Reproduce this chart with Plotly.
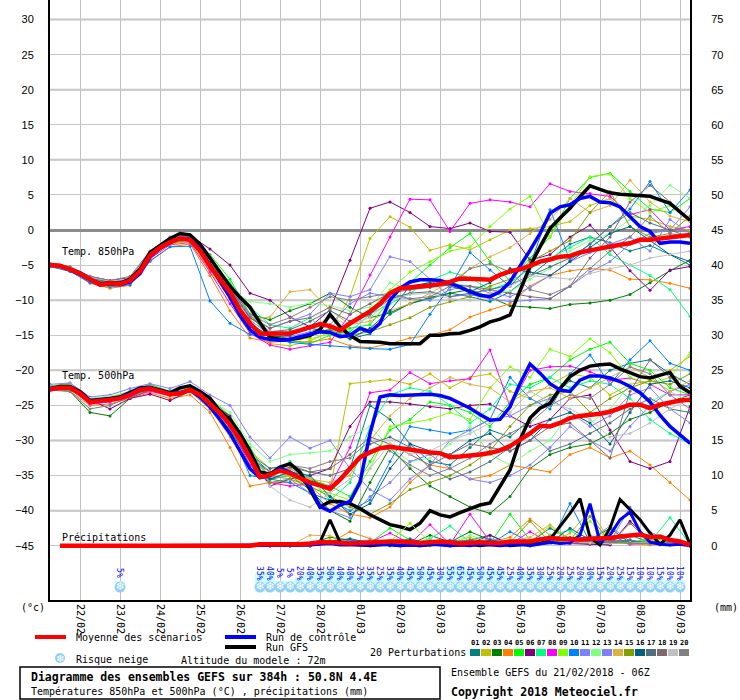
import plotly.graph_objects as go

# Time axis: 6h steps from 21/02/2018 06Z over 384h (members kept at 12h)
hours6 = [6 * i for i in range(65)]
hours12 = [12 * k for k in range(33)]

day_labels = ['22/02', '23/02', '24/02', '25/02', '26/02', '27/02', '28/02', '01/03',
              '02/03', '03/03', '04/03', '05/03', '06/03', '07/03', '08/03', '09/03']
day_hours = [18 + 24 * d for d in range(16)]

# Temperature 850 hPa (6h)
mean850 = [-5.0, -5.1, -5.6, -6.2, -7.0, -7.8, -7.6, -7.7, -7.2, -5.9,
           -3.6, -2.5, -1.7, -1.2, -1.4, -2.9, -5.2, -6.9, -8.8, -11.4,
           -13.3, -14.8, -14.8, -14.8, -14.7, -14.3, -13.8, -13.4, -13.7, -14.3,
           -13.3, -12.5, -11.6, -10.5, -9.0, -8.3, -8.2, -8.0, -7.9, -7.7,
           -7.4, -6.9, -6.9, -7.0, -7.1, -6.4, -5.9, -5.6, -5.1, -4.5,
           -4.2, -3.8, -3.7, -3.2, -2.9, -2.6, -2.4, -2.1, -1.9, -1.4,
           -1.4, -1.2, -1.0, -0.9, -0.7]
ctrl850 = [-5.0, -5.1, -5.7, -6.3, -7.1, -7.8, -7.7, -7.8, -7.4, -6.2,
           -3.8, -2.6, -1.8, -1.2, -1.3, -2.7, -5.0, -7.2, -9.6, -12.2,
           -14.2, -15.3, -15.6, -15.7, -15.6, -15.2, -14.8, -14.5, -14.6, -15.2,
           -15.0, -14.0, -14.5, -13.3, -10.0, -8.3, -7.4, -7.1, -7.1, -7.2,
           -7.6, -8.1, -8.8, -9.3, -9.5, -8.8, -7.4, -5.2, -2.9, -0.5,
           2.4, 3.3, 3.6, 4.5, 4.8, 4.0, 3.9, 3.3, 1.9, 0.5,
           -0.2, -1.9, -1.7, -1.7, -1.9]
gfs850 = [-5.0, -5.1, -5.6, -6.1, -7.0, -7.7, -7.5, -7.6, -7.0, -5.6,
          -3.2, -2.2, -1.2, -0.5, -0.7, -2.0, -4.0, -6.0, -8.0, -9.6,
          -11.0, -13.2, -15.3, -15.6, -15.6, -15.4, -15.0, -14.2, -12.0, -13.8,
          -15.0, -15.9, -15.9, -16.0, -16.2, -16.2, -16.2, -16.2, -15.0, -15.0,
          -14.8, -14.7, -14.3, -13.8, -13.1, -12.7, -12.1, -8.6, -5.2, -2.4,
          0.2, 1.7, 3.1, 4.75, 6.3, 5.8, 5.3, 5.1, 5.0, 4.8,
          4.8, 4.3, 3.8, 2.6, 1.4]

# Temperature 500 hPa (6h)
mean500 = [-22.7, -22.5, -22.5, -23.3, -24.5, -24.4, -24.2, -24.0, -23.5, -22.8,
           -22.6, -23.0, -23.4, -23.3, -22.8, -23.5, -24.7, -26.1, -27.8, -29.9,
           -32.5, -35.2, -34.9, -34.3, -34.7, -35.4, -36.0, -36.4, -36.9, -35.6,
           -33.9, -32.4, -31.7, -31.1, -30.9, -31.1, -31.4, -31.6, -31.7, -31.8,
           -32.4, -32.3, -32.2, -32.0, -31.8, -31.4, -30.8, -29.9, -29.0, -27.9,
           -28.0, -27.5, -26.8, -26.5, -26.4, -26.2, -25.9, -25.4, -24.9, -24.9,
           -25.4, -24.9, -24.6, -24.3, -24.2]
ctrl500 = [-22.6, -22.4, -22.4, -23.2, -24.4, -24.3, -24.1, -23.9, -23.3, -22.7,
           -22.5, -22.9, -23.3, -23.2, -22.8, -23.8, -25.2, -27.0, -29.0, -31.5,
           -34.0, -35.3, -35.0, -34.0, -34.5, -35.3, -36.5, -39.4, -40.1, -39.2,
           -38.7, -36.0, -29.0, -23.8, -23.5, -23.6, -23.5, -23.4, -23.4, -23.6,
           -24.0, -24.7, -25.4, -26.3, -27.1, -27.0, -25.2, -21.9, -19.1, -20.4,
           -21.9, -22.8, -23.0, -21.4, -20.8, -20.8, -21.1, -21.6, -22.3, -23.2,
           -24.5, -26.4, -28.0, -29.2, -30.4]
gfs500 = [-22.6, -22.3, -22.3, -23.0, -24.3, -24.2, -24.0, -23.8, -23.2, -22.5,
          -22.4, -22.8, -23.2, -22.5, -22.2, -23.0, -24.0, -25.8, -27.0, -29.0,
          -31.5, -34.5, -34.8, -33.8, -33.3, -34.5, -37.0, -39.5, -38.7, -38.7,
          -39.0, -39.7, -40.6, -41.3, -42.0, -42.3, -42.7, -41.8, -40.0, -40.6,
          -40.9, -40.3, -39.7, -39.2, -38.9, -36.6, -34.2, -29.9, -26.8, -25.4,
          -24.7, -22.6, -20.9, -20.0, -19.4, -19.2, -19.1, -19.8, -20.4, -20.9,
          -21.1, -20.7, -20.3, -22.3, -23.2]

# Precipitation (mm per 6h, from +6h)
mean_pr = [0, 0, 0, 0, 0, 0, 0, 0, 0, 0, 0, 0, 0, 0, 0, 0, 0, 0, 0, 0,
           0.2, 0.2, 0.1, 0.1, 0.2, 0.3, 0.5, 0.5, 0.4, 0.3,
           0.4, 0.5, 0.6, 0.6, 0.6, 0.5, 0.4, 0.5, 0.6, 0.5,
           0.3, 0.4, 0.5, 0.4, 0.4, 0.6, 0.6, 0.6, 0.9, 1.1,
           1.0, 0.9, 0.9, 1.0, 1.0, 1.1, 1.3, 1.4, 1.6, 1.2,
           1.3, 0.8, 0.6, 0.1]
ctrl_pr = [0, 0, 0, 0, 0, 0, 0, 0, 0, 0, 0, 0, 0, 0, 0, 0, 0, 0, 0, 0,
           0, 0, 0, 0, 0, 0.1, 0.2, 0.3, 0.1, 0.1,
           0, 0.1, 0.2, 0.1, 0, 0.1, 0, 0.2, 0.1, 0,
           0.1, 0, 0.2, 0.1, 0, 0.1, 0.2, 0, 0.2, 0.5,
           0.3, 0.4, 1.5, 6.0, 0.5, 1.5, 3.7, 4.8, 2.0, 0.5,
           0.2, 0.1, 0.2, 0]
gfs_pr = [0, 0, 0, 0, 0, 0, 0, 0, 0, 0, 0, 0, 0, 0, 0, 0, 0, 0, 0, 0,
          0, 0, 0, 0, 0.1, 0.3, 0.5, 3.7, 0.5, 0.2,
          0.1, 0, 0.1, 0.2, 0, 0.1, 0, 0.1, 0.2, 0,
          0.1, 0.2, 0, 0.1, 0.3, 0, 0.1, 0.2, 0.3, 0.9,
          2.8, 4.6, 6.7, 1.2, 0.1, 2.5, 6.6, 5.1, 3.7, 1.8,
          0.2, 1.5, 3.7, 0.2]

pert_colors = ['#008080', '#c0c000', '#008000', '#ff8000', '#00ff00', '#800080', '#00ff80',
               '#ff00ff', '#80ff00', '#0080ff', '#8080ff', '#80ff80', '#8080ff', '#e0b040',
               '#80a000', '#006080', '#507080', '#806870', '#c0c0c0', '#808080']

# 20 perturbations, 12h steps
pert850 = [
    [-5.0, -5.5, -7.1, -7.8, -7.4, -3.8, -1.6, -1.3, -5.5, -9.5, -13.8, -15.2, -15.6, -15.0, -14.2, -15.5,
     -14.8, -12.0, -10.5, -9.8, -9.0, -9.5, -10.2, -8.8, -6.5, -4.2, -2.0, -1.0, -1.8, -3.0, -2.2, -3.5, -5.0],
    [-5.1, -5.7, -7.2, -7.8, -7.5, -4.0, -2.0, -1.6, -5.8, -9.8, -14.5, -16.2, -16.5, -15.8, -14.5, -9.5,
     -1.2, 1.9, 0.4, -2.9, -2.1, -2.8, -1.4, 0.0, 0.2, 0.5, 1.2, 3.5, 4.5, 2.0, 1.5, 0.5, 0.0],
    [-4.9, -5.4, -6.8, -7.4, -7.0, -3.4, -1.5, -1.2, -4.8, -8.0, -12.0, -12.8, -11.5, -10.5, -9.0, -11.0,
     -12.5, -11.8, -10.5, -9.6, -9.0, -8.5, -9.6, -10.8, -11.0, -11.2, -10.6, -10.4, -10.0, -9.2, -7.5, -5.8, -4.3],
    [-5.2, -5.8, -7.6, -8.3, -7.9, -4.5, -2.4, -2.0, -6.5, -11.5, -15.4, -16.0, -15.8, -16.0, -15.5, -16.5,
     -16.8, -16.2, -15.4, -15.0, -14.2, -12.4, -11.4, -10.5, -8.0, -6.5, -5.8, -5.5, -5.7, -7.0, -7.1, -7.6, -8.3],
    [-4.9, -5.5, -6.9, -7.5, -7.0, -3.5, -1.2, -0.8, -3.5, -7.0, -12.0, -15.5, -15.8, -16.2, -15.0, -14.0,
     -13.5, -10.0, -7.5, -5.0, -2.5, -0.5, -4.5, -7.2, -4.0, -1.0, 4.5, 7.5, 8.1, 5.5, 3.0, 2.5, 4.5],
    [-5.0, -5.4, -6.6, -7.2, -6.8, -3.2, -1.3, -0.8, -2.7, -5.0, -9.0, -10.0, -12.4, -13.8, -11.4, -4.3,
     3.1, 4.0, 2.5, 0.5, 0.2, 1.0, -0.2, -0.3, -4.3, -3.5, -1.0, 0.7, -2.4, -5.8, -8.6, -5.7, -5.2],
    [-5.0, -5.6, -7.1, -7.7, -7.3, -3.7, -1.8, -1.5, -4.2, -7.5, -11.0, -13.5, -14.0, -12.5, -15.0, -14.5,
     -12.0, -10.5, -9.0, -7.2, -6.0, -6.8, -8.5, -7.5, -5.5, -4.0, -2.5, -1.0, -3.5, -5.0, -6.5, -8.5, -12.3],
    [-5.1, -5.8, -7.3, -7.9, -7.6, -4.1, -2.1, -1.8, -6.0, -10.5, -14.7, -16.4, -17.0, -16.5, -16.0, -12.0,
     -6.4, -1.0, 4.4, 4.3, -0.2, 3.8, 4.3, 4.0, 3.3, 6.6, 5.5, 5.2, 4.8, 2.2, 2.9, 0.0, 0.5],
    [-4.9, -5.5, -6.9, -7.5, -7.1, -3.5, -1.4, -0.9, -4.0, -8.0, -12.5, -14.5, -15.0, -15.5, -14.8, -13.5,
     -11.5, -8.5, -6.0, -4.5, -3.0, -2.4, 0.5, 3.0, 4.8, -1.0, 3.5, 7.6, 8.0, 4.5, 2.5, 3.5, 1.5],
    [-5.2, -5.9, -7.5, -8.1, -7.8, -4.4, -2.4, -2.3, -10.1, -13.3, -14.9, -15.5, -16.0, -16.3, -16.5, -16.8,
     -16.9, -17.0, -16.3, -12.0, -8.1, -3.2, -5.7, -8.0, -5.0, 2.9, -4.3, -2.0, 0.5, 3.0, 6.9, 2.5, 5.7],
    [-4.8, -5.3, -6.8, -7.4, -6.9, -3.1, -1.2, -0.7, -4.0, -8.5, -12.2, -14.0, -13.0, -12.0, -9.0, -9.5,
     -8.5, -3.8, -4.5, -7.0, -9.5, -9.2, -9.8, -10.2, -10.0, -9.8, -8.0, -6.0, -4.5, -2.0, -0.5, 0.0, 3.3],
    [-5.0, -5.5, -6.9, -7.5, -7.1, -3.5, -1.6, -1.2, -4.5, -8.5, -10.2, -10.5, -11.0, -10.4, -10.8, -11.5,
     -11.0, -7.5, -8.5, -8.2, -7.5, -8.0, -8.2, -8.8, -7.0, -5.5, -3.0, -1.5, -0.5, 1.5, 3.5, 6.4, 4.5],
    [-5.0, -5.6, -7.0, -7.7, -7.2, -3.4, -1.3, -0.9, -3.8, -7.8, -12.8, -15.0, -15.2, -14.5, -13.5, -10.5,
     -9.0, -9.5, -9.8, -10.0, -8.5, -8.0, -9.0, -9.5, -8.2, -6.5, -4.5, -3.2, -2.0, -1.0, -3.0, 1.5, -0.5],
    [-5.1, -5.7, -7.1, -7.8, -7.4, -3.9, -2.0, -1.7, -5.5, -9.8, -12.8, -12.4, -8.8, -8.5, -11.4, -13.5,
     -13.0, -11.5, -10.5, -9.0, -7.5, -5.5, -3.8, -2.5, -0.5, 1.5, 4.5, 2.5, 3.5, 7.1, 4.0, 2.0, 1.2],
    [-5.0, -5.6, -7.2, -7.9, -7.3, -3.8, -1.9, -1.4, -5.5, -9.5, -13.5, -15.0, -15.5, -15.2, -14.0, -15.0,
     -14.5, -13.5, -12.5, -11.0, -10.2, -9.5, -8.0, -7.0, -4.5, -3.0, -1.5, 2.5, 5.5, 0.5, -1.0, -0.5, 2.0],
    [-5.0, -5.5, -7.0, -7.6, -7.2, -3.6, -1.6, -1.2, -5.0, -9.0, -13.2, -15.3, -15.0, -14.0, -14.5, -15.5,
     -14.0, -11.5, -8.0, -7.5, -8.0, -8.8, -7.5, -5.5, -6.0, -6.5, -4.5, -2.5, -0.5, 0.5, -1.5, -3.5, -4.5],
    [-4.9, -5.4, -6.9, -7.4, -7.0, -3.3, -1.5, -1.0, -4.6, -8.2, -12.5, -14.5, -14.2, -13.0, -11.5, -13.0,
     -12.0, -9.8, -9.0, -8.8, -9.5, -9.0, -8.5, -7.8, -6.5, -5.2, -4.0, -2.0, 0.5, 2.5, 1.0, 0.0, -1.0],
    [-5.0, -5.6, -7.0, -7.6, -7.2, -3.5, -1.6, -1.2, -5.0, -8.8, -12.5, -14.0, -13.0, -12.5, -11.0, -12.0,
     -10.5, -9.0, -8.5, -8.2, -7.8, -8.0, -8.5, -9.0, -9.5, -9.8, -8.0, -4.0, -1.0, 4.0, 6.4, 4.0, 1.5],
    [-4.8, -5.3, -6.7, -7.3, -6.9, -3.2, -1.3, -1.0, -4.2, -8.0, -12.0, -14.5, -14.8, -13.8, -12.5, -13.5,
     -12.5, -10.0, -9.2, -9.0, -9.8, -10.0, -9.0, -8.0, -6.5, -6.8, -7.0, -6.2, -5.5, -5.0, -4.0, -3.5, -3.0],
    [-4.8, -5.2, -6.6, -7.2, -6.6, -3.0, -1.0, -0.7, -4.0, -8.0, -12.0, -13.5, -12.5, -11.0, -9.5, -10.0,
     -9.5, -9.0, -9.8, -9.5, -8.0, -5.5, -4.8, -6.0, -8.5, -9.2, -8.0, -5.5, -3.0, -1.0, 2.0, -0.5, -1.0],
]

pert500 = [
    [-22.5, -22.3, -24.8, -24.0, -23.2, -22.4, -23.2, -22.6, -24.5, -27.5, -32.0, -34.5, -34.0, -35.5, -37.0, -34.0,
     -25.0, -27.0, -30.5, -33.0, -33.5, -31.0, -28.5, -29.5, -27.0, -24.0, -21.5, -22.5, -20.0, -19.0, -18.5, -20.5, -22.0],
    [-22.3, -21.8, -24.0, -24.2, -23.0, -22.5, -23.0, -22.5, -24.0, -27.0, -31.5, -34.0, -33.5, -36.0, -37.0, -21.9,
     -21.6, -21.3, -22.0, -20.5, -22.5, -21.0, -20.5, -23.0, -24.0, -22.0, -20.5, -21.0, -23.5, -22.0, -21.5, -20.0, -18.0],
    [-22.5, -23.0, -26.0, -26.5, -24.0, -22.8, -23.5, -23.0, -25.0, -28.5, -33.0, -35.5, -35.0, -37.0, -40.0, -41.5,
     -36.0, -31.0, -34.0, -36.5, -38.0, -39.5, -40.4, -38.0, -34.0, -32.0, -31.0, -30.5, -29.0, -27.0, -26.0, -24.5, -23.5],
    [-22.8, -23.0, -25.0, -24.8, -24.0, -23.2, -24.0, -23.5, -26.0, -31.0, -36.5, -36.0, -36.0, -36.5, -39.0, -40.5,
     -41.0, -39.5, -36.0, -33.5, -34.0, -35.5, -35.0, -33.5, -34.0, -34.5, -32.0, -31.0, -32.5, -31.5, -33.5, -36.0, -38.5],
    [-22.2, -22.0, -24.2, -23.8, -23.0, -22.0, -23.0, -22.2, -24.0, -26.5, -31.0, -35.5, -34.5, -35.5, -36.5, -38.0,
     -33.0, -28.5, -27.0, -24.5, -25.0, -26.0, -28.0, -24.5, -22.0, -21.0, -18.5, -17.0, -16.0, -19.0, -20.0, -22.5, -23.5],
    [-22.8, -22.6, -24.2, -25.5, -24.0, -23.4, -24.3, -23.0, -24.5, -26.5, -32.0, -36.5, -35.5, -35.0, -34.0, -28.0,
     -24.5, -24.5, -24.8, -25.2, -25.5, -25.0, -24.8, -26.5, -28.0, -27.0, -24.0, -23.5, -28.5, -33.0, -34.0, -33.0, -25.2],
    [-22.6, -22.4, -24.4, -24.1, -23.3, -22.6, -23.3, -22.7, -24.6, -27.5, -32.5, -35.0, -33.0, -35.5, -38.5, -36.0,
     -28.0, -23.5, -22.5, -23.0, -25.0, -27.5, -25.5, -22.0, -22.5, -21.0, -22.5, -21.5, -22.0, -24.0, -27.0, -29.0, -30.5],
    [-22.9, -22.7, -24.8, -24.5, -23.8, -23.0, -23.6, -22.9, -24.8, -28.0, -33.5, -36.0, -36.5, -36.2, -36.5, -31.0,
     -23.2, -22.8, -20.3, -21.9, -21.5, -21.2, -17.1, -25.2, -20.0, -19.5, -19.4, -20.2, -21.4, -21.1, -22.0, -23.5, -23.5],
    [-22.4, -22.2, -24.3, -24.0, -23.4, -22.5, -23.2, -22.6, -24.4, -27.2, -32.2, -35.3, -35.0, -36.8, -37.5, -38.5,
     -34.0, -28.0, -27.5, -27.0, -26.0, -27.0, -22.5, -19.5, -21.0, -17.0, -18.0, -15.5, -17.5, -21.0, -22.0, -21.0, -17.5],
    [-22.7, -22.6, -24.6, -24.0, -23.6, -22.7, -23.5, -22.8, -25.0, -28.5, -35.0, -35.5, -36.0, -37.5, -38.5, -40.0,
     -38.5, -33.0, -28.0, -28.5, -29.0, -28.5, -27.0, -21.0, -24.0, -25.5, -20.5, -17.8, -22.0, -18.5, -15.8, -19.0, -20.0],
    [-22.0, -21.8, -23.8, -23.5, -22.6, -21.9, -22.6, -21.6, -23.5, -25.0, -29.5, -32.5, -29.5, -31.1, -30.0, -34.0,
     -37.0, -38.5, -35.5, -33.5, -30.0, -28.5, -27.0, -26.5, -25.0, -24.0, -26.0, -28.0, -26.5, -23.5, -22.5, -25.5, -27.5],
    [-22.3, -22.1, -24.0, -23.7, -23.1, -22.3, -23.1, -22.4, -24.2, -26.0, -30.5, -33.0, -32.0, -31.8, -31.5, -29.5,
     -28.0, -31.0, -33.0, -32.5, -30.5, -28.0, -32.0, -33.5, -31.5, -30.0, -26.0, -27.5, -25.5, -22.0, -24.5, -23.0, -24.5],
    [-22.6, -22.4, -24.6, -24.2, -23.4, -22.6, -23.3, -22.7, -24.5, -27.5, -32.5, -35.0, -35.5, -37.5, -40.0, -41.0,
     -38.0, -36.0, -33.0, -32.0, -34.0, -35.5, -36.0, -35.0, -33.5, -31.0, -28.0, -30.0, -31.5, -28.0, -25.0, -23.0, -22.0],
    [-22.4, -22.2, -24.5, -24.3, -23.5, -22.7, -23.4, -22.8, -25.5, -29.5, -34.0, -35.0, -34.0, -35.5, -36.0, -35.0,
     -30.0, -26.5, -24.0, -22.5, -21.0, -22.0, -22.5, -24.5, -23.0, -22.5, -24.0, -22.5, -21.0, -19.5, -21.0, -23.0, -21.5],
    [-22.5, -22.5, -24.5, -24.3, -23.6, -22.7, -23.5, -22.9, -24.8, -28.0, -33.0, -36.0, -35.5, -36.5, -38.0, -39.5,
     -40.5, -39.0, -37.0, -36.0, -35.0, -33.5, -31.5, -28.0, -25.0, -23.5, -23.0, -26.0, -24.0, -22.5, -21.5, -22.0, -20.5],
    [-22.6, -22.4, -24.6, -24.1, -23.4, -22.6, -23.4, -22.8, -24.6, -27.8, -33.0, -35.5, -34.5, -35.0, -38.0, -40.5,
     -39.0, -34.0, -30.5, -31.5, -32.0, -30.0, -29.0, -31.5, -30.0, -27.0, -26.0, -27.5, -30.5, -26.0, -22.0, -21.5, -22.5],
    [-22.5, -22.3, -24.4, -24.0, -23.3, -22.5, -23.3, -22.7, -24.4, -27.2, -32.0, -34.0, -33.5, -34.5, -35.0, -34.0,
     -30.5, -29.5, -31.0, -34.0, -35.5, -34.5, -33.0, -31.0, -29.0, -31.5, -30.5, -29.0, -27.5, -25.5, -24.0, -25.5, -26.0],
    [-22.6, -22.5, -24.5, -24.2, -23.5, -22.6, -23.4, -22.8, -24.6, -27.6, -32.5, -34.5, -33.8, -34.5, -34.0, -32.0,
     -29.5, -30.5, -32.0, -33.5, -32.0, -30.5, -31.0, -31.5, -30.0, -28.0, -27.5, -30.0, -32.5, -23.0, -18.5, -21.0, -23.0],
    [-22.3, -22.2, -24.2, -23.9, -23.2, -22.4, -23.2, -22.6, -24.3, -27.0, -33.0, -36.5, -38.5, -39.5, -37.5, -35.5,
     -34.0, -30.5, -32.0, -31.5, -30.0, -29.0, -27.5, -26.0, -23.0, -24.5, -25.5, -27.0, -29.5, -29.0, -27.5, -25.5, -24.0],
    [-22.8, -23.0, -25.5, -25.0, -23.8, -22.8, -23.6, -23.0, -25.5, -28.5, -32.5, -34.5, -33.5, -34.0, -33.0, -32.5,
     -30.0, -31.5, -33.5, -35.0, -34.0, -32.5, -30.5, -29.0, -27.5, -25.0, -23.5, -24.0, -22.0, -19.5, -20.5, -23.5, -25.5],
]

# precipitation of the perturbations, 12h steps from +12h
pert_pr = [
    [0, 0, 0, 0, 0, 0, 0, 0, 0, 0, 0, 0, 0.2, 0.5, 0.3, 0, 0.4, 1.0, 0.2, 0, 0.8, 1.5, 0.3, 0.5, 2.5, 1.0, 0.5, 0.2, 1.5, 0.5, 0.3, 0],
    [0, 0, 0, 0, 0, 0, 0, 0, 0, 0, 0, 0, 0, 0.8, 0.2, 0, 0, 0.3, 0, 0.5, 1.2, 0.2, 0, 0.6, 0.3, 1.8, 5.0, 0.8, 0.5, 0.2, 0.4, 0.1],
    [0, 0, 0, 0, 0, 0, 0, 0, 0, 0, 0, 0, 0.3, 1.2, 0.8, 0.5, 0, 0.2, 1.5, 0.5, 2.0, 0.8, 0.2, 0, 0.3, 0.6, 0.8, 2.5, 0.4, 0.8, 0.3, 0],
    [0, 0, 0, 0, 0, 0, 0, 0, 0, 0, 0, 0, 0.1, 0.4, 2.0, 1.0, 0.5, 0.2, 0.8, 0.3, 0.2, 0.5, 1.2, 3.8, 1.5, 0.5, 0.2, 1.0, 0.3, 0.1, 0.2, 0],
    [0, 0, 0, 0, 0, 0, 0, 0, 0, 0, 0, 0, 0.2, 0.6, 0.3, 0.4, 2.5, 0.8, 0.3, 0.5, 0.2, 0.3, 4.5, 0.8, 0.5, 0.3, 0.6, 0.4, 0.3, 1.2, 0.5, 0.3],
    [0, 0, 0, 0, 0, 0, 0, 0, 0, 0, 0, 0, 0, 0.3, 0.5, 0.2, 0.1, 0.8, 0.4, 0, 0.3, 1.5, 0.2, 0.5, 1.0, 0.3, 0.2, 0.1, 3.5, 0.8, 0.2, 0],
    [0, 0, 0, 0, 0, 0, 0, 0, 0, 0, 0, 0, 0.1, 0.2, 0.6, 0.3, 0.5, 0.2, 1.0, 2.8, 0.5, 0.2, 0.8, 0.3, 1.5, 2.2, 0.4, 0.6, 0.3, 0.5, 4.0, 0.2],
    [0, 0, 0, 0, 0, 0, 0, 0, 0, 0, 0, 0, 0, 0.3, 0.2, 0.5, 1.8, 0.3, 3.0, 0.2, 4.5, 0.6, 0.2, 2.0, 0.4, 0.3, 0.5, 0.8, 0.2, 0.4, 0.1, 0],
    [0, 0, 0, 0, 0, 0, 0, 0, 0, 0, 0, 0, 0.2, 0.8, 0.4, 0.2, 0.6, 3.2, 0.5, 0.2, 0.4, 0.8, 0.3, 0.6, 2.8, 0.5, 3.5, 0.4, 0.8, 0.3, 0.5, 0.2],
    [0, 0, 0, 0, 0, 0, 0, 0, 0, 0, 0, 0, 0, 0.5, 0.8, 0.3, 0.2, 0.5, 0.3, 0.8, 0.5, 0.2, 2.0, 0.5, 0.3, 6.0, 0.5, 0.3, 0.8, 0.2, 0.4, 0],
    [0, 0, 0, 0, 0, 0, 0, 0, 0, 0, 0, 0, 0.1, 0.3, 0.2, 0.4, 0.3, 0.5, 0.2, 0.6, 0.3, 1.0, 0.5, 0.3, 0.8, 0.4, 1.5, 0.5, 5.5, 2.0, 0.5, 0.2],
    [0, 0, 0, 0, 0, 0, 0, 0, 0, 0, 0, 0, 0.3, 0.5, 0.3, 0.2, 0.8, 0.3, 0.5, 0.2, 1.5, 0.5, 0.8, 0.3, 0.5, 0.6, 1.0, 0.4, 0.3, 0.8, 0.5, 0.3],
    [0, 0, 0, 0, 0, 0, 0, 0, 0, 0, 0, 0, 0, 0.4, 0.6, 0.8, 0.3, 0.2, 0.4, 0.5, 0.3, 0.2, 0.5, 0.4, 0.3, 0.5, 0.8, 2.8, 0.6, 0.3, 0.2, 0],
    [0, 0, 0, 0, 0, 0, 0, 0, 0, 0, 0, 0, 1.5, 1.4, 0.5, 0.2, 0.3, 0.6, 0.2, 0.4, 0.3, 0.5, 0.6, 1.2, 3.0, 0.8, 0.5, 0.3, 0.6, 0.2, 0.3, 0.1],
    [0, 0, 0, 0, 0, 0, 0, 0, 0, 0, 0, 0, 0.2, 0.5, 0.3, 0.6, 0.2, 0.3, 0.5, 0.2, 0.6, 0.3, 0.4, 3.5, 0.5, 0.8, 4.2, 0.5, 0.3, 0.6, 0.2, 0],
    [0, 0, 0, 0, 0, 0, 0, 0, 0, 0, 0, 0, 0, 0.6, 1.0, 0.4, 0.3, 0.2, 0.6, 0.3, 0.2, 0.8, 0.3, 0.5, 0.4, 2.5, 0.8, 0.3, 0.6, 0.4, 0.2, 0.1],
    [0, 0, 0, 0, 0, 0, 0, 0, 0, 0, 0, 0, 0.1, 0.5, 0.4, 0.3, 0.6, 0.2, 0.3, 0.5, 0.8, 0.3, 0.2, 0.6, 0.4, 0.5, 0.3, 0.6, 0.8, 0.3, 0.4, 0.2],
    [0, 0, 0, 0, 0, 0, 0, 0, 0, 0, 0, 0, 0, 0.3, 0.2, 0.5, 0.3, 0.4, 0.2, 0.3, 0.5, 0.4, 0.3, 0.5, 0.8, 1.2, 0.5, 0.3, 3.2, 0.6, 0.3, 0],
    [0, 0, 0, 0, 0, 0, 0, 0, 0, 0, 0, 0, 0.2, 0.4, 0.3, 0.2, 0.4, 0.6, 0.3, 0.2, 0.4, 0.3, 0.6, 0.4, 0.3, 0.5, 0.4, 0.3, 0.5, 0.4, 0.3, 0.2],
    [0, 0, 0, 0, 0, 0, 0, 0, 0, 0, 0, 0, 0.1, 0.4, 0.5, 0.3, 0.2, 0.5, 0.3, 0.4, 0.2, 0.5, 0.3, 0.6, 0.5, 0.3, 0.8, 0.5, 0.4, 0.3, 0.6, 0.2],
]

# Snow risk (%), one value per 6h step where shown
snow_hours = [42] + hours6[21:64]
snow_pct = [5, 35, 40, 5, 5, 20, 40, 35, 50, 40, 40, 25, 35, 25, 35, 40, 45, 50, 45, 30, 55,
            65, 45, 50, 45, 45, 25, 40, 35, 30, 25, 20, 25, 20, 30, 15, 20, 25, 15, 10, 10,
            15, 10, 10]

for arr in (mean850, ctrl850, gfs850, mean500, ctrl500, gfs500):
    assert len(arr) == 65
for arr in (mean_pr, ctrl_pr, gfs_pr):
    assert len(arr) == 64
for j in range(20):
    assert len(pert850[j]) == 33 and len(pert500[j]) == 33 and len(pert_pr[j]) == 32
assert len(snow_hours) == len(snow_pct)

# y range: temperature on left, precip (mm) on right = T + 45
T_TOP, T_BOT = 32.79, -52.74
MONO = 'DejaVu Sans Mono'

fig = go.Figure()

# perturbations: precip first (right axis), then temps
for j in range(20):
    fig.add_trace(go.Scatter(x=hours12[1:], y=pert_pr[j], yaxis='y2', mode='lines+markers',
                             line=dict(color=pert_colors[j], width=1), marker=dict(size=3, color=pert_colors[j])))
for j in range(20):
    for level in (pert850, pert500):
        fig.add_trace(go.Scatter(x=hours12, y=level[j], mode='lines+markers',
                                 line=dict(color=pert_colors[j], width=1),
                                 marker=dict(size=3, color=pert_colors[j])))

# GFS, control, mean
for series, color in ((gfs850, 'black'), (ctrl850, '#0000ff'), (mean850, '#ff0000')):
    fig.add_trace(go.Scatter(x=hours6, y=series, mode='lines',
                             line=dict(color=color, width=4.5 if color == '#ff0000' else 3.5)))
for series, color in ((gfs500, 'black'), (ctrl500, '#0000ff'), (mean500, '#ff0000')):
    fig.add_trace(go.Scatter(x=hours6, y=series, mode='lines',
                             line=dict(color=color, width=4.5 if color == '#ff0000' else 3.5)))
for series, color in ((gfs_pr, 'black'), (ctrl_pr, '#0000ff'), (mean_pr, '#ff0000')):
    fig.add_trace(go.Scatter(x=hours6[1:], y=series, yaxis='y2', mode='lines',
                             line=dict(color=color, width=4.5 if color == '#ff0000' else 3)))

# snow risk row: cyan bars, flakes, rotated percentages
fig.add_trace(go.Bar(x=snow_hours, y=[p * 0.04 for p in snow_pct], base=-50.3, width=6,
                     marker=dict(color='#c8ffff', line=dict(width=0))))
fig.add_trace(go.Scatter(x=snow_hours, y=[-50.9] * len(snow_hours), mode='markers',
                         marker=dict(symbol='circle', size=11, color='#8fd0f4')))
fig.add_trace(go.Scatter(x=snow_hours, y=[-50.9] * len(snow_hours), mode='text', text=['❄'] * len(snow_hours),
                         textfont=dict(family='DejaVu Sans', size=11, color='#ffffff')))
for h, p in zip(snow_hours, snow_pct):
    fig.add_annotation(x=h, y=-48.9, text=f'{p}%', showarrow=False, textangle=90,
                       xanchor='center', yanchor='middle',
                       font=dict(family=MONO, size=8, color='#0000ff'))

# thicker grid lines every 10 degrees
for t in (-40, -30, -20, -10, 10, 20, 30):
    fig.add_shape(type='line', xref='paper', x0=0, x1=1, yref='y', y0=t, y1=t,
                  line=dict(color='#c0c0c0', width=2), layer='below')


def px(v):
    return (v - 50) / 640.0


def py(v):
    return (600 - v) / 600.0


def label(x, y, text, size=10, bold=False, anchor='left'):
    if bold:
        text = f'<b>{text}</b>'
    fig.add_annotation(xref='paper', yref='paper', x=px(x), y=py(y), text=text, showarrow=False,
                       xanchor=anchor, yanchor='middle', font=dict(family=MONO, size=size, color='black'))


label(60, 251, 'Temp. 850hPa')
label(60, 375, 'Temp. 500hPa')
label(60, 537, 'Précipitations')
label(19, 607, '(°c)')
label(712, 607, '(mm)')

# legend below the chart
for x0, x1, yy, col in ((35, 66, 637, '#ff0000'), (225, 256, 637, '#0000ff'), (225, 256, 647, 'black')):
    fig.add_shape(type='line', xref='paper', yref='paper', x0=px(x0), x1=px(x1), y0=py(yy), y1=py(yy),
                  line=dict(color=col, width=4))
label(74, 637, 'Moyenne des scénarios')
label(264, 637, 'Run de contrôle')
label(264, 647, 'Run GFS')
fig.add_shape(type='circle', xref='paper', yref='paper', x0=px(55), x1=px(65), y0=py(663), y1=py(653),
              line=dict(width=0), fillcolor='#8fd0f4')
fig.add_annotation(xref='paper', yref='paper', x=px(60), y=py(658), text='❄', showarrow=False,
                   xanchor='center', yanchor='middle',
                   font=dict(family='DejaVu Sans', size=10, color='#ffffff'))
label(74, 659, 'Risque neige')
label(179, 660, 'Altitude du modele : 72m')
label(368, 652, '20 Perturbations')
for j, col in enumerate(pert_colors):
    x0 = 470 + 11 * j
    fig.add_shape(type='rect', xref='paper', yref='paper', x0=px(x0), x1=px(x0 + 10),
                  y0=py(656), y1=py(649), line=dict(width=0), fillcolor=col)
    fig.add_annotation(xref='paper', yref='paper', x=px(x0 + 5), y=py(643), text=f'<b>{j + 1:02d}</b>',
                       showarrow=False, xanchor='center', yanchor='middle',
                       font=dict(family=MONO, size=7, color='black'))

fig.add_shape(type='rect', xref='paper', yref='paper', x0=px(20), x1=px(440), y0=py(667), y1=py(699),
              line=dict(color='black', width=1.5))
label(29, 677, 'Diagramme des ensembles GEFS sur 384h : 50.8N 4.4E', size=11.5, bold=True)
label(29, 691, 'Températures 850hPa et 500hPa (°C) , précipitations (mm)')
label(449, 672, 'Ensemble GEFS du 21/02/2018 - 06Z')
label(449, 692, 'Copyright 2018 Meteociel.fr', size=11.5, bold=True)

tickfont = dict(family='Liberation Sans', size=11, color='black')
fig.update_layout(
    width=740,
    height=700,
    margin=dict(l=50, r=50, t=0, b=100),
    plot_bgcolor='white',
    paper_bgcolor='white',
    showlegend=False,
    bargap=0,
    xaxis=dict(range=[0, 384], tickvals=day_hours, ticktext=day_labels, tickangle=90,
               showgrid=True, gridcolor='#c0c0c0', gridwidth=1, zeroline=False,
               showline=True, linecolor='black', linewidth=2, ticks='',
               tickfont=dict(family=MONO, size=10, color='black')),
    yaxis=dict(range=[T_BOT, T_TOP], tickvals=list(range(-45, 31, 5)), showgrid=True,
               gridcolor='#c8c8c8', gridwidth=1, zeroline=True, zerolinecolor='#8c8c8c',
               zerolinewidth=3, showline=True, linecolor='black', linewidth=2, ticks='',
               ticklabelstandoff=12, tickfont=tickfont),
    yaxis2=dict(range=[T_BOT + 45, T_TOP + 45], overlaying='y', side='right',
                tickvals=list(range(0, 76, 5)), showgrid=False, zeroline=False,
                showline=True, linecolor='black', linewidth=2, ticks='',
                ticklabelstandoff=17, tickfont=tickfont),
)

# page has a default body margin; drop it so the figure sits at the window corner
fig.write_html('out.html', config={'displayModeBar': False},
               post_script="document.body.style.margin='0';")
